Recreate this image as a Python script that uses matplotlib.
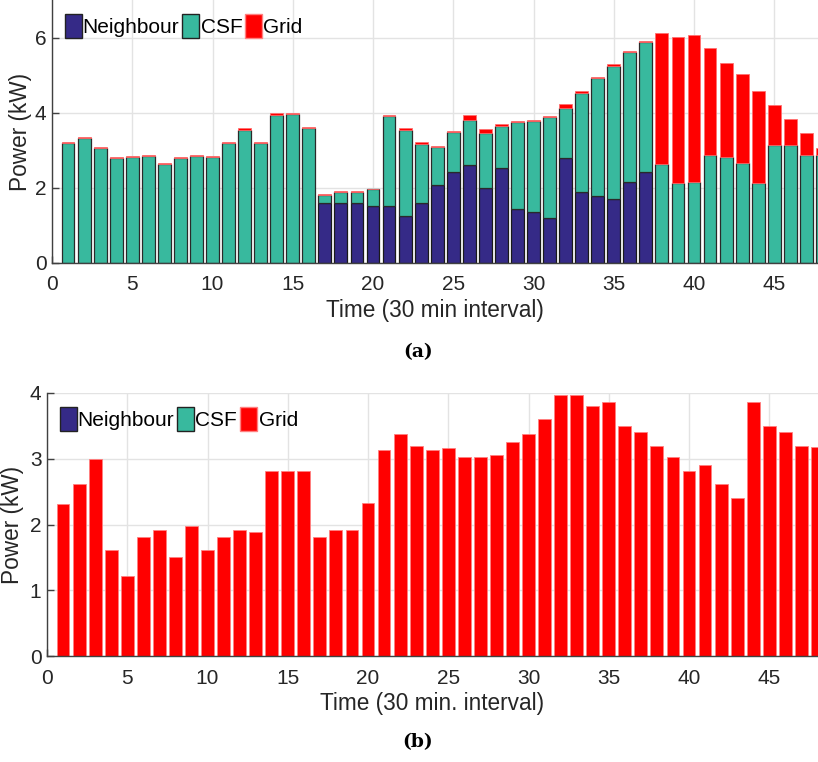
import numpy as np
import matplotlib
matplotlib.use('Agg')
from matplotlib import pyplot as plt
from matplotlib.patches import Patch

plt.rcParams['font.family'] = ['Liberation Sans', 'DejaVu Sans']

# -----------------------------
# data (kW per 30 min slot)
# -----------------------------
slots = np.arange(1, 49)

# (a) power shared between neighbour, CSF and grid
neighbour_a = [0, 0, 0, 0, 0, 0, 0, 0, 0, 0, 0, 0, 0, 0, 0, 0,
               1.60, 1.60, 1.60, 1.51, 1.51, 1.25, 1.60, 2.07, 2.42, 2.60, 2.00, 2.52,
               1.43, 1.35, 1.19, 2.79, 1.90, 1.77, 1.70, 2.15, 2.42,
               0, 0, 0, 0, 0, 0, 0, 0, 0, 0, 0]
total_csf_a = [3.19, 3.33, 3.06, 2.80, 2.82, 2.85, 2.64, 2.80, 2.85, 2.83, 3.19, 3.55,
               3.19, 3.95, 3.97, 3.59, 1.80, 1.89, 1.89, 1.96, 3.92, 3.55, 3.18, 3.08,
               3.48, 3.81, 3.46, 3.65, 3.76, 3.78, 3.88, 4.13, 4.52, 4.93, 5.25, 5.62,
               5.88, 2.64, 2.12, 2.16, 2.87, 2.82, 2.65, 2.12, 3.15, 3.13, 2.87, 2.88]
total_a = [3.22, 3.35, 3.09, 2.83, 2.85, 2.88, 2.67, 2.83, 2.88, 2.86, 3.22, 3.58,
           3.22, 3.98, 4.00, 3.62, 1.83, 1.91, 1.91, 1.98, 3.95, 3.58, 3.21, 3.11,
           3.51, 3.93, 3.57, 3.69, 3.79, 3.80, 3.91, 4.24, 4.57, 4.96, 5.29, 5.65,
           5.92, 6.13, 6.01, 6.08, 5.71, 5.33, 5.03, 4.57, 4.21, 3.82, 3.46, 3.06]
neighbour_a = np.array(neighbour_a)
csf_a = np.array(total_csf_a) - neighbour_a
grid_a = np.array(total_a) - np.array(total_csf_a)

# (b) everything from the grid
grid_b = [2.31, 2.61, 2.99, 1.61, 1.21, 1.81, 1.91, 1.51, 1.97, 1.61, 1.81, 1.91,
          1.89, 2.81, 2.81, 2.81, 1.81, 1.91, 1.91, 2.32, 3.13, 3.37, 3.20, 3.13,
          3.16, 3.03, 3.03, 3.05, 3.25, 3.37, 3.60, 3.97, 3.97, 3.80, 3.86, 3.50,
          3.40, 3.20, 3.02, 2.81, 2.90, 2.61, 2.41, 3.86, 3.50, 3.40, 3.20, 3.18]

c_nb = '#352a87'
c_csf = '#38b99e'
c_grid = '#ff0000'
txt = '#262626'
fs_tick = 15
fs_lab = 16.3

W, H = 818, 762
fig = plt.figure(figsize=(W / 100, H / 100), dpi=100)


def style_ax(ax, yticks):
    ax.set_xticks(np.arange(0, 50, 5))
    ax.set_yticks(yticks)
    ax.grid(True, color='#e3e3e3', linewidth=1.0)
    ax.set_axisbelow(True)
    for s in ['top', 'right']:
        ax.spines[s].set_visible(False)
    for s in ['left', 'bottom']:
        ax.spines[s].set_color('#404040')
        ax.spines[s].set_linewidth(1.0)
    ax.tick_params(direction='in', length=5, width=1, colors='#404040',
                   labelcolor=txt, labelsize=fs_tick)
    ax.tick_params(axis='x', pad=9)
    ax.tick_params(axis='y', pad=4)


def add_legend(ax):
    handles = [Patch(facecolor=c_nb, edgecolor='#222222', label='Neighbour'),
               Patch(facecolor=c_csf, edgecolor='#222222', label='CSF'),
               Patch(facecolor=c_grid, edgecolor='#ff8080', label='Grid')]
    ax.legend(handles=handles, loc='upper left', bbox_to_anchor=(0.0, 0.995), ncol=3,
              frameon=False, fontsize=15, handlelength=0.82, handleheight=1.4,
              handletextpad=0.05, columnspacing=0.15, borderaxespad=0.2)


# 绘制 (a)
ax1 = fig.add_axes([52 / W, 1 - 263 / H, (W - 52) / W, 263 / H])
ax1.bar(slots, neighbour_a, 0.8, color=c_nb, edgecolor='#1a1a1a', linewidth=0.9)
ax1.bar(slots, csf_a, 0.8, bottom=neighbour_a, color=c_csf, edgecolor='#2a2a2a', linewidth=0.9)
ax1.bar(slots, grid_a, 0.8, bottom=neighbour_a + csf_a, color=c_grid, edgecolor='#ff7070', linewidth=0.6)
ax1.set_xlim(0, (W - 52) / 16.05)
ax1.set_ylim(0, 7)
style_ax(ax1, [0, 2, 4, 6])
ax1.set_xlabel('Time (30 min interval)', fontsize=fs_lab, color=txt, labelpad=3)
ax1.set_ylabel('Power (kW)', fontsize=fs_lab, color=txt, labelpad=2)
add_legend(ax1)

# 绘制 (b)
ax2 = fig.add_axes([47 / W, 1 - 656 / H, (W - 47) / W, 263 / H])
ax2.bar(slots, grid_b, 0.8, color=c_grid, edgecolor='#ff8080', linewidth=0.6)
ax2.set_xlim(0, (W - 47) / 16.05)
ax2.set_ylim(0, 4)
style_ax(ax2, [0, 1, 2, 3, 4])
ax2.set_xlabel('Time (30 min. interval)', fontsize=fs_lab, color=txt, labelpad=3)
ax2.set_ylabel('Power (kW)', fontsize=fs_lab, color=txt, labelpad=4)
add_legend(ax2)

fig.text(418 / W, 1 - 352 / H, '(a)', ha='center', va='center', fontsize=13.5,
         fontweight='bold', family='DejaVu Serif')
fig.text(418 / W, 1 - 742 / H, '(b)', ha='center', va='center', fontsize=13.5,
         fontweight='bold', family='DejaVu Serif')

plt.savefig('out.png', dpi=100)
